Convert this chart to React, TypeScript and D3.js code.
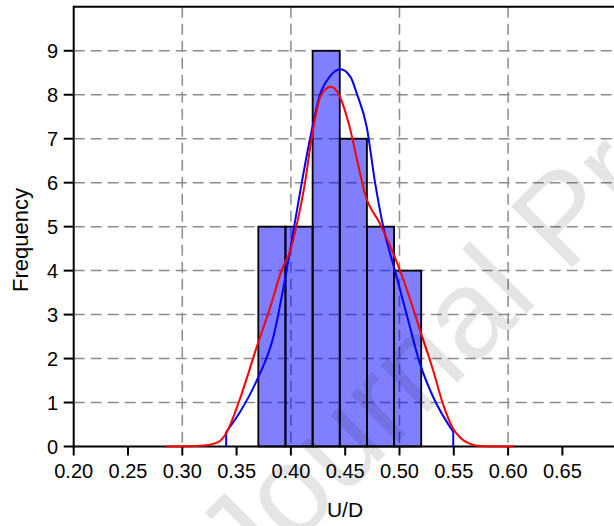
import * as React from "react";
import * as d3 from "d3";

// histogram of U/D
const binEdges = [0.37, 0.395, 0.42, 0.445, 0.47, 0.495, 0.52];
const binCounts = [5, 5, 9, 7, 5, 4];

// fitted normal curve (blue)
const normalU = [0.3404, 0.353, 0.3685, 0.3838, 0.396, 0.403, 0.41, 0.4176, 0.4268, 0.436, 0.4456, 0.455, 0.4606, 0.4698, 0.4775, 0.485, 0.4958, 0.5066, 0.5189, 0.5311, 0.5495];
const normalF = [0.33, 0.78, 1.5, 2.49, 4.0, 5.0, 6.0, 7.0, 8.0, 8.42, 8.58, 8.4, 8.03, 7.27, 6.0, 5.0, 4.0, 3.0, 1.88, 1.12, 0.33];

// kernel density curve (red)
const kdeU = [0.285, 0.31, 0.32, 0.3285, 0.335, 0.341, 0.353, 0.3685, 0.381, 0.3915, 0.4, 0.405, 0.413, 0.419, 0.428, 0.437, 0.445, 0.454, 0.461, 0.468, 0.482, 0.4958, 0.507, 0.519, 0.531, 0.54, 0.549, 0.556, 0.565, 0.575, 0.605];
const kdeF = [0, 0.01, 0.02, 0.06, 0.13, 0.33, 1.08, 2.26, 3.17, 4.01, 4.5, 5.0, 6.0, 7.0, 8.0, 8.18, 7.96, 7.27, 6.51, 5.76, 5.07, 4.3, 3.55, 2.64, 1.73, 0.97, 0.42, 0.2, 0.06, 0.01, 0];

const xTicks = [0.2, 0.25, 0.3, 0.35, 0.4, 0.45, 0.5, 0.55, 0.6, 0.65];
const yTicks = [0, 1, 2, 3, 4, 5, 6, 7, 8, 9];
const xGrid = [0.3, 0.4, 0.5, 0.6];
const yGrid = [1, 2, 3, 4, 5, 6, 7, 8, 9];

const font = "'Liberation Sans', Arial, Helvetica, sans-serif";

export default function App() {
  const x = d3.scaleLinear().domain([0.2, 0.7]).range([73.7, 616.7]);
  const y = d3.scaleLinear().domain([0, 10]).range([446.5, 6.8]);

  const curve = d3.line<[number, number]>()
    .x(d => x(d[0]))
    .y(d => y(d[1]))
    .curve(d3.curveMonotoneX);
  const straight = d3.line<[number, number]>()
    .x(d => x(d[0]))
    .y(d => y(d[1]));

  const normalPts = normalU.map((u, i) => [u, normalF[i]] as [number, number]);
  const kdePts = kdeU.map((u, i) => [u, kdeF[i]] as [number, number]);
  const nLast = normalPts.length - 1;

  const x0 = x.range()[0], x1 = x.range()[1];
  const y0 = y.range()[0], y1 = y.range()[1];
  const grid = "#8c8c8c";

  return (
    <svg width={614} height={526} style={{ position: "absolute", left: 0, top: 0 }} fontFamily={font}>
      <rect width={614} height={526} fill="#fff" />

      {/* grid */}
      <g stroke={grid} strokeWidth={1.5} strokeDasharray="11,6">
        {yGrid.map(v => <line key={"h" + v} x1={x0} x2={x1} y1={y(v)} y2={y(v)} />)}
        {xGrid.map(v => <line key={"v" + v} x1={x(v)} x2={x(v)} y1={y1} y2={y0} />)}
      </g>

      {/* bars */}
      <g>
        {binCounts.map((c, i) => (
          <rect key={i} x={x(binEdges[i])} y={y(c)} width={x(binEdges[i + 1]) - x(binEdges[i])}
            height={y(0) - y(c)} fill="blue" fillOpacity={0.5} stroke="#000" strokeWidth={1.8} />
        ))}
      </g>

      {/* frame and axes */}
      <g stroke="#000" strokeWidth={2} fill="none">
        <line x1={x0} x2={x1} y1={y1} y2={y1} />
        <line x1={x1} x2={x1} y1={y1} y2={y0} />
        <line x1={x0} x2={x0} y1={y1 - 1} y2={y0 + 1} />
        <line x1={x0} x2={x1} y1={y0} y2={y0} />
        {xTicks.map(v => <line key={"xt" + v} x1={x(v)} x2={x(v)} y1={y0} y2={y0 + 9} />)}
        {yTicks.map(v => <line key={"yt" + v} x1={x0 - 10} x2={x0} y1={y(v)} y2={y(v)} />)}
      </g>

      {/* curves */}
      <g fill="none" strokeWidth={2}>
        <path d={curve(normalPts) || ""} stroke="#0000ff" />
        <path d={straight([[normalU[0], 0], normalPts[0]]) || ""} stroke="#0000ff" />
        <path d={straight([[normalU[nLast], 0], normalPts[nLast]]) || ""} stroke="#0000ff" />
        <path d={curve(kdePts) || ""} stroke="#ff0000" />
      </g>

      {/* tick labels */}
      <g fontSize={20} fill="#000">
        {xTicks.map(v => (
          <text key={"xl" + v} x={x(v)} y={478} textAnchor="middle">{d3.format(".2f")(v)}</text>
        ))}
        {yTicks.map(v => (
          <text key={"yl" + v} x={58} y={y(v)} dy="0.36em" textAnchor="end">{v}</text>
        ))}
        <text x={345} y={517} fontSize={21} textAnchor="middle">U/D</text>
        <text transform="translate(28,240) rotate(-90)" fontSize={22} textAnchor="middle">Frequency</text>
      </g>

      {/* watermark */}
      <text transform="translate(248,592) rotate(-45)" fontSize={126} fill="#000" fillOpacity={0.1}>Journal Pre-proof</text>
    </svg>
  );
}
